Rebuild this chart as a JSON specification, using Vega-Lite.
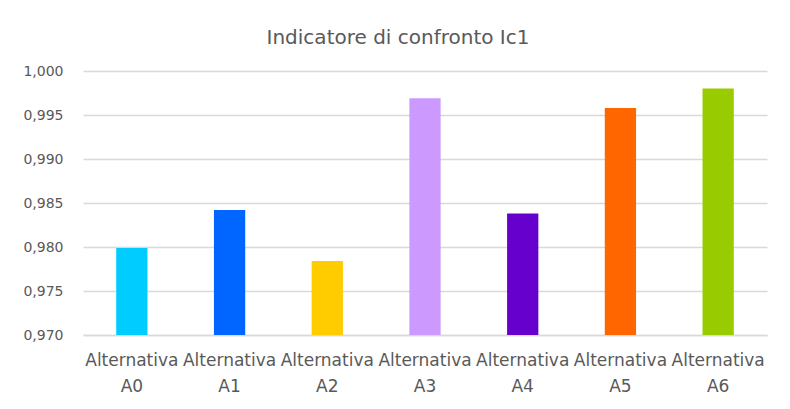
{
  "$schema": "https://vega.github.io/schema/vega-lite/v6.json",
  "autosize": {"type": "none"},
  "width": 684,
  "height": 264,
  "padding": {"left": 83, "top": 71, "right": 23, "bottom": 74},
  "background": "white",
  "title": {"text": "Indicatore di confronto Ic1", "anchor": "middle", "dx": -27, "offset": 16, "fontSize": 20, "font": "DejaVu Sans", "fontWeight": "normal", "color": "#595959"},
  "config": {
    "locale": {"number": {"decimal": ",", "thousands": ".", "grouping": [3], "currency": ["€", ""]}},
    "view": {"stroke": null},
    "font": "DejaVu Sans"
  },
  "data": {"values": [
    {"alt": "Alternativa A0", "ic1": 0.9799, "color": "#00CCFF"},
    {"alt": "Alternativa A1", "ic1": 0.9842, "color": "#0066FF"},
    {"alt": "Alternativa A2", "ic1": 0.9784, "color": "#FFCC00"},
    {"alt": "Alternativa A3", "ic1": 0.9969, "color": "#CC99FF"},
    {"alt": "Alternativa A4", "ic1": 0.9838, "color": "#6600CC"},
    {"alt": "Alternativa A5", "ic1": 0.9958, "color": "#FF6600"},
    {"alt": "Alternativa A6", "ic1": 0.9980, "color": "#99CC00"}
  ]},
  "mark": {"type": "bar", "clip": true},
  "encoding": {
    "x": {"field": "alt", "type": "nominal", "sort": null,
      "scale": {"paddingInner": 0.68, "paddingOuter": 0.34},
      "axis": {"title": null, "labelAngle": 0, "labelExpr": "split(datum.value, ' ')", "labelFontSize": 17, "labelColor": "#595959", "labelLineHeight": 26, "labelPadding": 17, "ticks": false, "domainColor": "#d9d9d9", "domainWidth": 1.5, "labelBaseline": "top", "labelOverlap": false, "labelBound": false}},
    "y": {"field": "ic1", "type": "quantitative",
      "scale": {"domain": [0.97, 1.0], "zero": false, "nice": false},
      "axis": {"title": null, "format": ".3f", "values": [0.97, 0.975, 0.98, 0.985, 0.99, 0.995, 1.0], "labelFontSize": 14, "labelColor": "#595959", "labelPadding": 20, "ticks": false, "domain": false, "gridColor": "#d9d9d9", "gridWidth": 1.5}},
    "color": {"field": "color", "type": "nominal", "scale": null, "legend": null}
  }
}
